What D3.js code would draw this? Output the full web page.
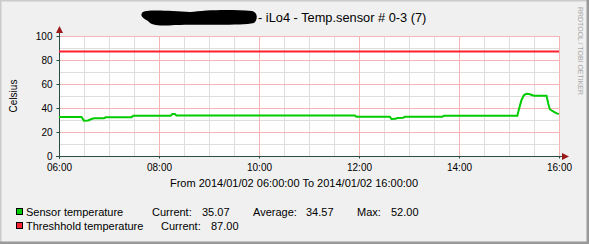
<!DOCTYPE html>
<html><head><meta charset="utf-8">
<script src="https://cdn.jsdelivr.net/npm/d3@7"></script>
<style>html,body{margin:0;padding:0;background:#fff;}svg{display:block;font-family:"Liberation Sans",Arial,sans-serif;}</style>
</head><body>
<script>
// ---- data ----
const times = ["06:00","06:27","06:30","06:35","06:39","06:42","06:54","06:56","07:27","07:29","08:14","08:16","08:19","08:21","11:55","11:57","12:37","12:39","12:44","12:46","12:53","12:55","13:40","13:42","15:10","15:12","15:15","15:18","15:21","15:24","15:30","15:45","15:47","15:49","15:52","15:55","15:58","16:00"];
const sensor = [32.6,32.6,29.4,29.6,30.8,31.4,31.5,32.2,32.3,33.6,33.6,35.0,35.0,33.7,33.7,32.8,32.8,30.8,31.0,31.7,31.8,32.7,32.7,33.6,33.6,39.2,46.7,50.8,51.8,51.7,50.3,50.2,43.9,39.0,37.5,36.4,35.3,35.1];
const thresholdTimes = ["06:00","16:00"];
const threshold = [87,87];
const yTicks = [0,20,40,60,80,100];
const xTickLabels = ["06:00","08:00","10:00","12:00","14:00","16:00"];
const legendRows = [
  {name:"Sensor temperature", color:"#00cc00", stats:[["Current:","35.07"],["Average:","34.57"],["Max:","52.00"]]},
  {name:"Threshhold temperature", color:"#ff2030", stats:[["Current:","87.00"]]}
];
const titleText = "- iLo4 - Temp.sensor # 0-3 (7)";
const subtitle = "From 2014/01/02 06:00:00 To 2014/01/02 16:00:00";
const yLabel = "Celsius";
const watermark = "RRDTOOL / TOBI OETIKER";

// ---- layout ----
const W = 589, H = 244;
const pl = 59, pr = 559, pt = 36, pb = 156;
const parse = d3.timeParse("%Y-%m-%d %H:%M");
const tp = s => parse("2014-01-02 " + s);

const svg = d3.select("body").append("svg").attr("width", W).attr("height", H);
// background + 3D frame
svg.append("rect").attr("x",0).attr("y",0).attr("width",W).attr("height",H).attr("fill","#f0f0f0");
svg.append("path").attr("d",`M0,${H} L0,0 L${W},0`).attr("fill","none").attr("stroke","#cbcbcb").attr("stroke-width",3);
svg.append("path").attr("d",`M0,${H-1} L${W-1},${H-1} L${W-1},0`).attr("fill","none").attr("stroke","#999").attr("stroke-width",3);

const x = d3.scaleTime().domain([tp("06:00"), tp("16:00")]).range([pl, pr]);
const y = d3.scaleLinear().domain([0,100]).range([pb, pt]);

svg.append("rect").attr("x",pl).attr("y",pt).attr("width",pr-pl).attr("height",pb-pt).attr("fill","#fff");

// minor grid
const g = svg.append("g").attr("shape-rendering","crispEdges");
const minorX = d3.timeMinute.every(30).range(tp("06:00"), d3.timeMinute.offset(tp("16:00"),1));
minorX.forEach(d => { if (d.getHours()%2!==0 || d.getMinutes()!==0)
  g.append("line").attr("x1",Math.round(x(d))+0.5).attr("x2",Math.round(x(d))+0.5).attr("y1",pt).attr("y2",pb).attr("stroke","#dedede"); });
d3.range(10,101,20).forEach(v => g.append("line").attr("x1",pl).attr("x2",pr).attr("y1",Math.round(y(v))+0.5).attr("y2",Math.round(y(v))+0.5).attr("stroke","#dedede"));
// major grid
xTickLabels.forEach(s => { const d = tp(s);
  g.append("line").attr("x1",Math.round(x(d))+0.5).attr("x2",Math.round(x(d))+0.5).attr("y1",pt).attr("y2",pb).attr("stroke","#f4b4b4"); });
yTicks.forEach(v => g.append("line").attr("x1",pl).attr("x2",pr).attr("y1",Math.round(y(v))+0.5).attr("y2",Math.round(y(v))+0.5).attr("stroke","#f4b4b4"));

// axes via d3
const yAxis = d3.axisLeft(y).tickValues(yTicks).tickSize(3).tickPadding(4);
const ya = svg.append("g").attr("transform",`translate(${pl+0.5},0)`).call(yAxis);
ya.select(".domain").remove();
ya.selectAll("text").attr("font-size","10px").attr("fill","#000").attr("font-family","Liberation Sans, Arial, sans-serif");
ya.selectAll("line").attr("stroke","#2c4d43");
const xAxis = d3.axisBottom(x).tickValues(xTickLabels.map(tp)).tickFormat(d3.timeFormat("%H:%M")).tickSize(2).tickPadding(5);
const xa = svg.append("g").attr("transform",`translate(0,${pb+0.5})`).call(xAxis);
xa.select(".domain").remove();
xa.selectAll("text").attr("font-size","10px").attr("fill","#000").attr("font-family","Liberation Sans, Arial, sans-serif");
xa.selectAll("line").attr("stroke","#2c4d43");

// axis lines + arrows
svg.append("line").attr("x1",pl+0.5).attr("x2",pl+0.5).attr("y1",pb+3).attr("y2",pt-4).attr("stroke","#2c4d43").attr("shape-rendering","crispEdges");
svg.append("line").attr("x1",pl-3).attr("x2",pr+4).attr("y1",pb+0.5).attr("y2",pb+0.5).attr("stroke","#2c4d43").attr("shape-rendering","crispEdges");
svg.append("path").attr("d",`M${pl-3},${pt-3} L${pl+0.5},${pt-10} L${pl+4},${pt-3} Z`).attr("fill","#9a1a1a");
svg.append("path").attr("d",`M${pr+3},${pb-3} L${pr+10},${pb+0.5} L${pr+3},${pb+4} Z`).attr("fill","#9a1a1a");

// lines
const line = d3.line().x(d=>x(d[0])).y(d=>y(d[1]));
svg.append("path").datum(thresholdTimes.map((t,i)=>[tp(t),threshold[i]])).attr("d",line).attr("fill","none").attr("stroke","#ff2030").attr("stroke-width",2);
svg.append("path").datum(times.map((t,i)=>[tp(t),sensor[i]])).attr("d",line).attr("fill","none").attr("stroke","#00cc00").attr("stroke-width",2);

// title with redaction blob
svg.append("path").attr("d","M142,13 C144,9 170,11 190,12 C205,10 230,9 252,11 C258,12 258,20 254,23 C240,26 200,24 175,25 C160,26 152,26 148,21 C143,18 140,16 142,13 Z").attr("fill","#000");
svg.append("text").attr("x",258).attr("y",22).attr("font-size","12.8px").attr("fill","#000").text(titleText);

// y label
svg.append("text").attr("transform","translate(17,96) rotate(-90)").attr("text-anchor","middle").attr("font-size","10px").text(yLabel);
// watermark
svg.append("text").attr("transform","translate(578,7) rotate(90)").attr("font-size","7px").attr("fill","#a8a8a8").attr("textLength",88).attr("lengthAdjust","spacingAndGlyphs").text(watermark);
// subtitle
svg.append("text").attr("x",294).attr("y",187).attr("text-anchor","middle").attr("font-size","11px").text(subtitle);

// legend
const statX = [[152,202],[253,306],[357,391]];
const statX2 = [[161,211]];
legendRows.forEach((r,i) => {
  const cy = 212 + i*14;
  svg.append("rect").attr("x",16.5).attr("y",cy-3.5).attr("width",6).attr("height",6).attr("fill",r.color).attr("stroke","#000").attr("stroke-width",1);
  svg.append("text").attr("x",26).attr("y",cy+4).attr("font-size","11px").text(r.name);
  const xs = i===0 ? statX : statX2;
  r.stats.forEach((s,j) => {
    svg.append("text").attr("x",xs[j][0]).attr("y",cy+4).attr("font-size","11px").text(s[0]);
    svg.append("text").attr("x",xs[j][1]).attr("y",cy+4).attr("font-size","11px").text(s[1]);
  });
});
</script>
</body></html>
